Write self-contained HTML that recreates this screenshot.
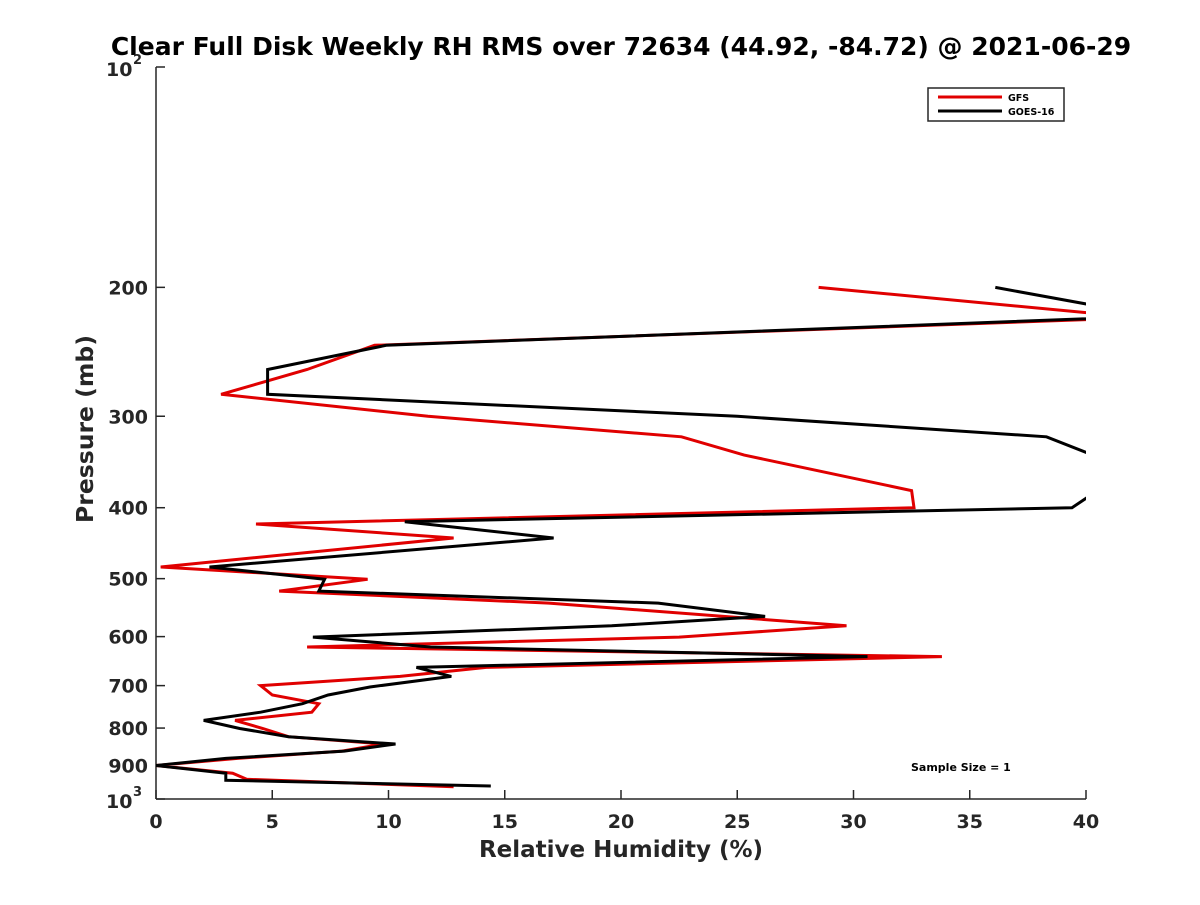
<!DOCTYPE html>
<html><head><meta charset="utf-8"><style>
body{margin:0;background:#fff;}
svg text{font-family:"DejaVu Sans","Liberation Sans",sans-serif;font-weight:bold;fill:#262626;}
</style></head><body>
<svg id="chart" width="1200" height="900" xmlns="http://www.w3.org/2000/svg">
<rect width="1200" height="900" fill="#fff"/>
<text x="621" y="55" text-anchor="middle" font-size="25" style="fill:#000">Clear Full Disk Weekly RH RMS over 72634 (44.92, -84.72) @ 2021-06-29</text>
<defs><clipPath id="plotclip"><rect x="156" y="67" width="930" height="732"/></clipPath></defs>
<g id="axes"></g>
<g id="series" clip-path="url(#plotclip)"></g>
<text x="621" y="857" text-anchor="middle" font-size="23">Relative Humidity (%)</text>
<text transform="translate(93,429) rotate(-90)" text-anchor="middle" font-size="23.5">Pressure (mb)</text>
<g>
<rect x="928" y="88" width="136" height="33" fill="#fff" stroke="#262626" stroke-width="1.5"/>
<line x1="938" y1="97" x2="1002" y2="97" stroke="#e00000" stroke-width="3"/>
<text x="1008" y="101" font-size="9.5" style="fill:#000">GFS</text>
<line x1="938" y1="111" x2="1002" y2="111" stroke="#000" stroke-width="3"/>
<text x="1008" y="115" font-size="9.5" style="fill:#000">GOES-16</text>
</g>
<text x="911" y="771" font-size="11" style="fill:#000">Sample Size = 1</text>
</svg>
<script>
const xTicks = [0,5,10,15,20,25,30,35,40];
const yTicks = [200,300,400,500,600,700,800,900];
const gfsP  = [200,220,240,259,280,300,320,339,379,400,421,440,482,501,520,540,580,601,620,639,661,680,700,721,741,761,781,801,822,841,860,880,900,922,940,962];
const gfsRH = [28.5,42.3,9.4,6.5,2.8,11.7,22.6,25.3,32.5,32.6,4.3,12.8,0.2,9.1,5.3,16.9,29.7,22.5,6.5,33.8,14.2,10.5,4.5,5.0,7.0,6.7,3.4,4.6,5.7,9.8,8.0,3.5,0,3.3,3.9,12.8];
const goesP  = [200,219,240,259,280,300,320,339,379,400,418,440,482,501,520,540,563,580,601,620,639,661,680,703,721,741,761,781,801,822,841,860,880,900,922,943,960];
const goesRH = [36.1,42.9,9.9,4.8,4.8,25.0,38.3,40.3,40.5,39.4,10.7,17.1,2.3,7.25,7.0,21.6,26.2,19.6,6.75,11.8,30.6,11.2,12.7,9.2,7.4,6.3,4.5,2.05,3.6,5.7,10.3,8.1,3.0,0,3.0,3.0,14.4];
const NS='http://www.w3.org/2000/svg';
const X0=156,X1=1086,Y0=799,Y1=67;
function xs(v){return X0+(v-0)/(40-0)*(X1-X0);}
function ysc(p){return Y0-(3-Math.log10(p))*(Y0-Y1);}
function mk(t,a,parent){const e=document.createElementNS(NS,t);for(const k in a)e.setAttribute(k,a[k]);parent.appendChild(e);return e;}
const axes=document.getElementById('axes');
const ax=mk('line',{x1:X0,y1:Y1,x2:X0,y2:Y0,stroke:'#262626','stroke-width':1.5},axes);


const bx=mk('line',{x1:X0,y1:Y0,x2:X1,y2:Y0,stroke:'#262626','stroke-width':1.5},axes);


xTicks.forEach(v=>{
  const x=xs(v);
  mk('line',{x1:x,y1:Y0,x2:x,y2:Y0-9,stroke:'#262626','stroke-width':1.5},axes);
  const t=mk('text',{x:x,y:828,'text-anchor':'middle','font-size':19},axes);
  t.textContent=v;
  
  
});
[100].concat(yTicks).concat([1000]).forEach(p=>{
  const y=ysc(p);
  mk('line',{x1:X0,y1:y,x2:X0+9,y2:y,stroke:'#262626','stroke-width':1.5},axes);
});
yTicks.forEach(p=>{
  const t=mk('text',{x:148,y:ysc(p)+7,'text-anchor':'end','font-size':19},axes);
  t.textContent=p;
  
  
});
[[100,'2'],[1000,'3']].forEach(([p,e])=>{
  const t=mk('text',{x:106,y:ysc(p)+9,'font-size':19},axes);
  t.textContent='10';
  
  
  const s=mk('text',{x:133,y:ysc(p)-3,'font-size':13},axes);
  s.textContent=e;
  
  
});
const ser=document.getElementById('series');
function line(P,R,color,name){
  const pts=P.map((p,i)=>xs(R[i]).toFixed(1)+','+ysc(p).toFixed(1)).join(' ');
  const pl=mk('polyline',{points:pts,fill:'none',stroke:color,'stroke-width':3,'stroke-linejoin':'miter'},ser);
  
  
}
line(gfsP,gfsRH,'#e00000','gfs-line');
line(goesP,goesRH,'#000','goes16-line');
</script>
</body></html>
